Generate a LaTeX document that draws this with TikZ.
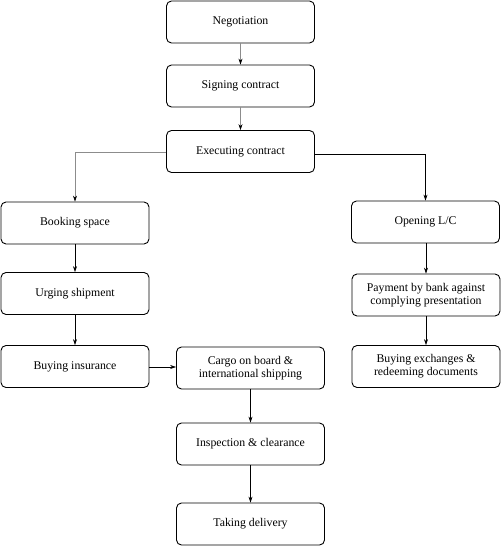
\documentclass[tikz,border=0pt]{standalone}
\usepackage{fontspec}
\setmainfont{Liberation Serif}
\usetikzlibrary{arrows.meta}
\begin{document}
\begin{tikzpicture}[x=1pt,y=1pt,
  box/.style={draw, rounded corners=5pt, line width=0.9pt, minimum width=148pt, minimum height=42pt, align=center, font=\fontsize{11.8}{12.8}\selectfont, inner sep=1pt},
  arr/.style={-{Stealth[length=6pt,width=4pt]}, line width=0.6pt},
  garr/.style={arr, draw=black!45, -{Stealth[length=6pt,width=4pt,fill=black,color=black]}}]
\useasboundingbox (0,0) rectangle (501,-546);
\node[box] (neg) at (240.5,-22) {Negotiation};
\node[box] (sign) at (240.5,-86) {Signing contract};
\node[box] (exec) at (240.5,-151.5) {Executing contract};
\node[box] (book) at (75,-223) {Booking space};
\node[box] (urge) at (75,-293.5) {Urging shipment};
\node[box] (ins) at (75,-366.5) {Buying insurance};
\node[box] (cargo) at (250.5,-368) {Cargo on board \&\\ international shipping};
\node[box] (insp) at (250.5,-444) {Inspection \& clearance};
\node[box] (take) at (250.5,-524) {Taking delivery};
\node[box] (lc) at (425.5,-222) {Opening L/C};
\node[box] (pay) at (426,-295) {Payment by bank against\\ complying presentation};
\node[box] (exch) at (426,-366.5) {Buying exchanges \&\\ redeeming documents};
\draw[garr] (neg) -- (sign);
\draw[garr] (sign) -- (exec);
\draw[garr] (exec.west |- 0,-152) -| (book.north);
\draw[arr] (exec.east |- 0,-154.5) -| (lc.north);
\draw[arr] (book) -- (urge);
\draw[arr] (urge) -- (ins);
\draw[arr] (ins.east |- 0,-367) -- (cargo.west |- 0,-367);
\draw[arr] (cargo) -- (insp);
\draw[arr] (insp) -- (take);
\draw[arr] (lc.south -| pay.north) -- (pay.north);
\draw[arr] (pay) -- (exch);
\end{tikzpicture}
\end{document}
